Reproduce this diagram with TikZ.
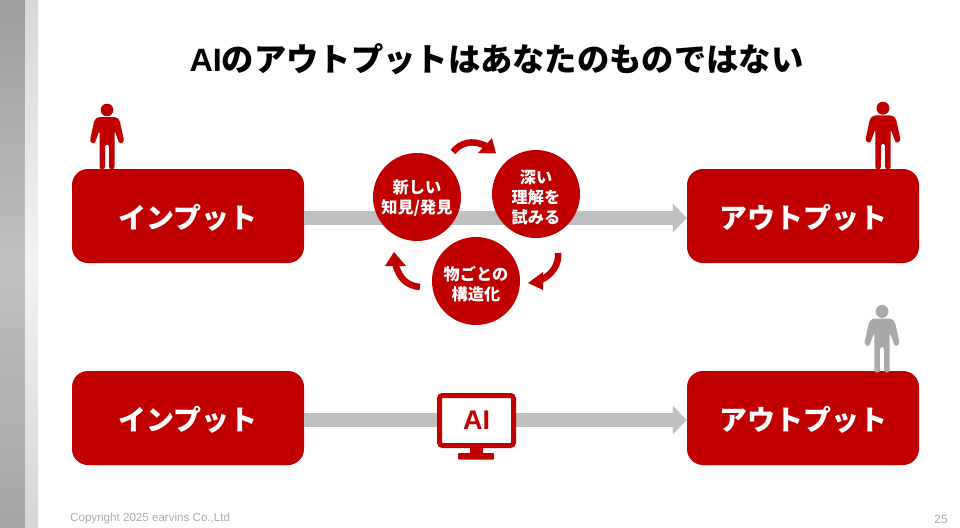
\documentclass[tikz,border=0pt]{standalone}
\usepackage{fontspec}
\setmainfont{Liberation Sans}
\newfontfamily\jpk{Noto Sans CJK JP Black}
\newfontfamily\lsb{Liberation Sans Bold}
\usetikzlibrary{arrows.meta}
\definecolor{brandred}{HTML}{C00000}
\definecolor{flowgray}{HTML}{BFBFBF}
\definecolor{persongray}{HTML}{A9A9A9}
\definecolor{footgray}{HTML}{ABABAB}
\definecolor{sidetop}{HTML}{9E9E9E}
\definecolor{sidemid}{HTML}{C0C0C0}
\definecolor{sidebot}{HTML}{A6A6A6}
\definecolor{striptop}{HTML}{D8D8D8}
\definecolor{stripmid}{HTML}{F2F2F2}
\definecolor{stripbot}{HTML}{D6D6D6}
\newcommand{\lowertext}[2]{\raisebox{-#1pt}[\height][\depth]{#2}}
\tikzset{
  x=1pt,y=-1pt,
  bigbox/.style={fill=brandred,rounded corners=16pt,minimum width=232pt,minimum height=94pt,inner sep=0pt,text=white,font=\jpk\fontsize{28}{28}\selectfont},
  cyc/.style={circle,fill=brandred,minimum size=88pt,inner sep=0pt,text=white,align=center,font=\jpk\fontsize{16.2}{20}\selectfont},
  flow/.style={draw=flowgray,line width=14pt,-{Triangle[length=14pt,width=28pt,fill=flowgray]}},
  turn/.style={draw=brandred,line width=6.5pt},
  turnhead/.style={fill=brandred},
  pics/person/.style={code={
    \fill[#1] (0,-59.3) circle (6.3);
    \fill[#1,rounded corners=2.6pt] (-9,-52.3) -- (9,-52.3) -- (12.5,-49.5) -- (17.3,-27.5) -- (12.6,-25) -- (7.5,-39) -- (7.5,0) -- (2,0) -- (2,-25) -- (-2,-25) -- (-2,0) -- (-7.5,0) -- (-7.5,-39) -- (-12.6,-25) -- (-17.3,-27.5) -- (-12.5,-49.5) -- cycle;
  }}
}
\begin{document}
\begin{tikzpicture}
\useasboundingbox (0,0) rectangle (960,527);
\fill[white] (0,0) rectangle (960,527);
\shade[shading=axis,top color=sidetop,bottom color=sidebot,middle color=sidemid] (0,0) rectangle (25,527);
\shade[shading=axis,top color=striptop,bottom color=stripbot,middle color=stripmid] (25,0) rectangle (38,527);

\node[font=\jpk\fontsize{32.3}{32.3}\selectfont] (title) at (496.5,59) {{\lsb AI}のアウトプットはあなたのものではない};

\node[bigbox] (in1) at (188,216) {\lowertext{2}{インプット}};
\node[bigbox] (out1) at (803,216) {\lowertext{2}{アウトプット}};
\node[bigbox] (in2) at (188,418) {\lowertext{2}{インプット}};
\node[bigbox] (out2) at (803,418) {\lowertext{2}{アウトプット}};

\draw[flow] ([yshift=-2pt]in1.east) -- ([yshift=-2pt]out1.west);
\draw[flow] ([yshift=-2pt]in2.east) -- ([yshift=-2pt]out2.west);

\node[cyc] (c1) at (417,197) {\lowertext{1.5}{新しい}\\\lowertext{1.5}{知見/発見}};
\node[cyc] (c2) at (536,194) {\lowertext{3}{深い}\\\lowertext{3}{理解を}\\\lowertext{3}{試みる}};
\node[cyc] (c3) at (476,281) {\lowertext{3}{物ごとの}\\\lowertext{3}{構造化}};

\draw[turn] (453,152) .. controls (460,143) and (472,139) .. (486,146);
\fill[turnhead] (496,153.5) -- (492,138) -- (478,153) -- cycle;
\draw[turn] (558,253) .. controls (559,264) and (553,274) .. (541,280);
\fill[turnhead] (528,283) -- (543,272) -- (543,290) -- cycle;
\draw[turn] (420,287) .. controls (408,286) and (399,279) .. (395.5,264);
\fill[turnhead] (394,252) -- (385,266) -- (406,266) -- cycle;

\pic at (107,169.3) {person=brandred};
\pic[scale=1.03] at (883,169.3) {person=brandred};
\pic[scale=1.03] at (882,372.5) {person=persongray};

\fill[brandred] (470,446) rectangle (483,456);
\fill[brandred,rounded corners=1pt] (458,453) rectangle (494,459.5);
\node[draw=brandred,fill=white,line width=5pt,rounded corners=3pt,minimum width=74pt,minimum height=50pt,inner sep=0pt,text=brandred,font=\lsb\fontsize{27}{27}\selectfont] (ai) at (476.5,420.5) {AI};

\node[anchor=base west,inner sep=0pt,text=footgray,font=\fontsize{11.6}{12}\selectfont] (copy) at (70,521) {Copyright 2025 earvins Co.,Ltd};
\node[anchor=base east,inner sep=0pt,text=footgray,font=\fontsize{12}{12}\selectfont] (page) at (948,523) {25};
\end{tikzpicture}
\end{document}
